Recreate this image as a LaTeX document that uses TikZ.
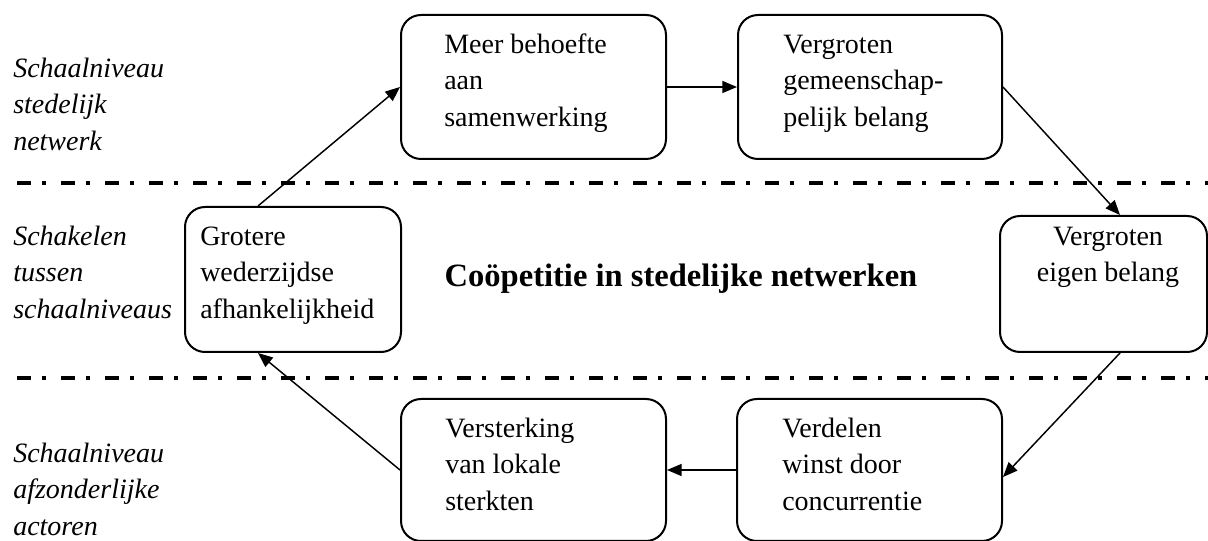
\documentclass[tikz,border=0pt]{standalone}
\usepackage{fontspec}
\setmainfont{Liberation Serif}
\usetikzlibrary{arrows.meta}
\begin{document}
\begin{tikzpicture}[x=0.75pt,y=-0.75pt,
  box/.style={draw,line width=1.5pt,rounded corners=15pt,inner sep=0pt},
  txt/.style={inner sep=0pt,anchor=north west,align=left,font=\fontsize{21}{27.4}\selectfont},
  lab/.style={txt,font=\fontsize{21}{27.4}\selectfont\itshape},
  arr/.style={line width=1.1pt,-{Triangle[length=11pt,width=9pt]}},
  sep/.style={line width=3pt,dash pattern=on 10.5pt off 8.25pt on 3pt off 11.25pt}]
\useasboundingbox (0,0) rectangle (1208,541);
% separators
\coordinate (d1a) at (17,183);
\coordinate (d1b) at (1208,183);
\coordinate (d2a) at (17,378);
\coordinate (d2b) at (1208,378);
\draw[sep] (d1a) -- (d1b);
\draw[sep] (d2a) -- (d2b);
% boxes
\node[box,minimum width=198.75pt,minimum height=108pt] (b1) at (533.5,87) {};
\node[box,minimum width=198pt,minimum height=108pt] (b2) at (870,87) {};
\node[box,minimum width=155.25pt,minimum height=102pt] (rb) at (1103.5,284) {};
\node[box,minimum width=162pt,minimum height=108.75pt] (lb) at (293,279.5) {};
\node[box,minimum width=198.75pt,minimum height=106.5pt] (vs) at (533.5,470) {};
\node[box,minimum width=198.75pt,minimum height=106.5pt] (vd) at (869.5,470) {};
% box texts
\node[txt] (t1) at (444,27.4) {\strut Meer behoefte\\aan\\samenwerking};
\node[txt] (t2) at (783,27.4) {\strut Vergroten\\gemeenschap-\\pelijk belang};
\node[txt,anchor=north,align=center] (trb) at (1108,219.4) {\strut Vergroten\\eigen belang};
\node[txt] (tlb) at (200,219.4) {\strut Grotere\\wederzijdse\\afhankelijkheid};
\node[txt] (tvs) at (445,411.4) {\strut Versterking\\van lokale\\sterkten};
\node[txt] (tvd) at (782,411.4) {\strut Verdelen\\winst door\\concurrentie};
% side labels
\node[lab] (la) at (13,51.4) {\strut Schaalniveau\\stedelijk\\netwerk};
\node[lab] (lm) at (13,219.4) {\strut Schakelen\\tussen\\schaalniveaus};
\node[lab] (lbt) at (13,436.4) {\strut Schaalniveau\\afzonderlijke\\actoren};
% title
\node[inner sep=0pt,anchor=base,font=\fontsize{24.4}{28}\selectfont\bfseries] (title) at (681,287) {Coöpetitie in stedelijke netwerken};
% connectors
\draw[arr] ([shift={(-35,0)}]lb.north) -- (b1.west);
\draw[arr] (b1.east) -- (b2.west);
\draw[arr] (b2.east) -- ([shift={(16.5,0)}]rb.north);
\draw[arr] ([shift={(16.5,0)}]rb.south) -- ([shift={(0,7)}]vd.east);
\draw[arr] (vd.west) -- (vs.east);
\draw[arr] (vs.west) -- ([shift={(-35,0)}]lb.south);
\end{tikzpicture}
\end{document}
